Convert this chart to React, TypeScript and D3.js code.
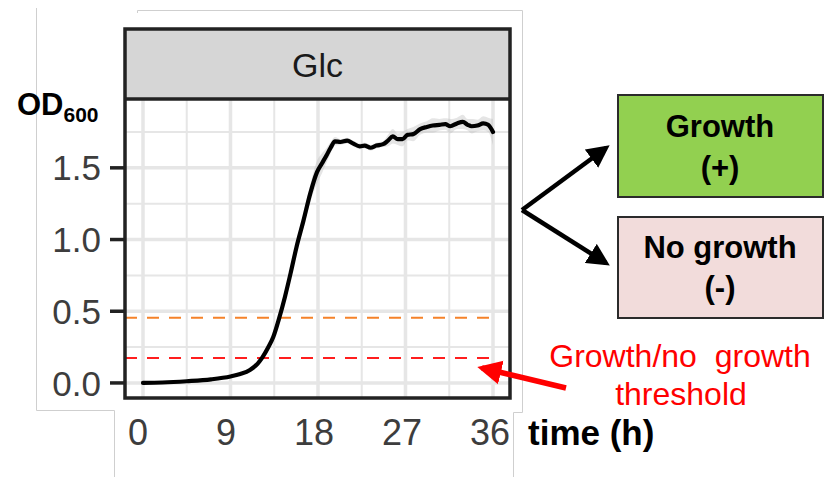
import React from 'react'
import * as d3 from 'd3'

// growth curve in glucose (mean OD600 with a small error band)
const hours = [0, 2, 4.5, 7, 9, 10, 11, 11.8, 12.3, 12.9, 13.4, 14, 14.6, 15.2, 15.8, 16.5, 17.2, 17.9, 18.4, 18.9,
  19.3, 19.75, 20.3, 21, 21.6, 22.3, 22.8, 23.4, 24, 24.7, 25.2, 25.7, 26.2, 26.7, 27.2, 27.8, 28.5, 29.2, 29.8, 30.5,
  31.1, 31.6, 32.3, 32.9, 33.4, 33.8, 34.4, 35, 35.5, 36]
const od600 = [0, 0.003, 0.012, 0.025, 0.045, 0.062, 0.09, 0.135, 0.18, 0.25, 0.32, 0.45, 0.6, 0.77, 0.95, 1.13, 1.32, 1.47, 1.53, 1.59,
  1.64, 1.685, 1.68, 1.69, 1.67, 1.65, 1.655, 1.64, 1.655, 1.665, 1.69, 1.72, 1.7, 1.7, 1.73, 1.735, 1.77, 1.785, 1.795, 1.8,
  1.805, 1.79, 1.81, 1.82, 1.8, 1.79, 1.795, 1.81, 1.8, 1.75]
const od600Sd = [0.005, 0.005, 0.005, 0.005, 0.005, 0.005, 0.005, 0.005, 0.005, 0.005, 0.005, 0.005, 0.01, 0.03, 0.04, 0.05, 0.06, 0.08, 0.07, 0.05,
  0.04, 0.03, 0.02, 0.02, 0.02, 0.02, 0.02, 0.02, 0.02, 0.02, 0.04, 0.05, 0.04, 0.05, 0.04, 0.05, 0.04, 0.04, 0.05, 0.04,
  0.04, 0.05, 0.04, 0.05, 0.04, 0.05, 0.04, 0.05, 0.05, 0.09]

const yMajor = [0, 0.5, 1.0, 1.5]
const yMinor = [0.25, 0.75, 1.25, 1.75]
const xMajor = [0, 9, 18, 27, 36]
const xMinor = [4.5, 13.5, 22.5, 31.5]
const xLabels = ['0', '9', '18', '27', '36']

const thresholds = [
  { value: 0.455, color: '#f5822a' },
  { value: 0.174, color: '#ff1e1e' },
]

const panel = { left: 125, right: 510, top: 29, stripBottom: 99, bottom: 398 }
const font = 'Liberation Sans, Arial, sans-serif'

export default function App() {
  const x = d3.scaleLinear().domain([-1.85, 37.75]).range([panel.left, panel.right])
  const y = d3.scaleLinear().domain([-0.105, 1.98]).range([panel.bottom, panel.stripBottom])
  // the hand-placed tick labels sit a little left of the grid
  const xLab = d3.scaleLinear().domain([0, 36]).range([138, 490])

  const rows = hours.map((h, i) => ({ h, v: od600[i], sd: od600Sd[i] }))

  const line = d3.line<any>()
    .x(d => x(d.h))
    .y(d => y(d.v))
    .curve(d3.curveMonotoneX)

  const band = d3.area<any>()
    .x(d => x(d.h))
    .y0(d => y(d.v - d.sd))
    .y1(d => y(d.v + d.sd))
    .curve(d3.curveMonotoneX)

  const grid = '#e6e6e6'

  return (
    <svg width={825} height={477} style={{ position: 'absolute', left: 0, top: 0, background: '#fff' }} fontFamily={font}>
      <defs>
        <marker id="blackHead" viewBox="0 0 10 10" refX="8" refY="5" markerWidth="5" markerHeight="5" orient="auto">
          <path d="M0,0 L10,5 L0,10 z" fill="#000" />
        </marker>
        <marker id="redHead" viewBox="0 0 10 10" refX="8" refY="5" markerWidth="4.4" markerHeight="5" orient="auto">
          <path d="M0,0 L10,5 L0,10 z" fill="#ff0000" />
        </marker>
        <clipPath id="plotClip">
          <rect x={panel.left} y={panel.stripBottom} width={panel.right - panel.left} height={panel.bottom - panel.stripBottom} />
        </clipPath>
      </defs>

      {/* faint edges of the pasted images */}
      <g fill="none" stroke="#cfcfcf" strokeWidth={1}>
        <path d="M36.5,8 V410.5 H114.5 V477" />
        <path d="M137.5,13 V10.5 H522.5 V412.5 H513.5 V477" />
      </g>

      {/* panel */}
      <rect x={panel.left} y={panel.stripBottom} width={panel.right - panel.left} height={panel.bottom - panel.stripBottom} fill="#fff" />
      <g clipPath="url(#plotClip)">
        {yMinor.map(v => (
          <line key={`ym${v}`} x1={panel.left} x2={panel.right} y1={y(v)} y2={y(v)} stroke={grid} strokeWidth={2} />
        ))}
        {xMinor.map(v => (
          <line key={`xm${v}`} x1={x(v)} x2={x(v)} y1={panel.stripBottom} y2={panel.bottom} stroke={grid} strokeWidth={2} />
        ))}
        {yMajor.map(v => (
          <line key={`yM${v}`} x1={panel.left} x2={panel.right} y1={y(v)} y2={y(v)} stroke={grid} strokeWidth={3.5} />
        ))}
        {xMajor.map(v => (
          <line key={`xM${v}`} x1={x(v)} x2={x(v)} y1={panel.stripBottom} y2={panel.bottom} stroke={grid} strokeWidth={3.5} />
        ))}
        <path d={band(rows) || ''} fill="#bdbdbd" opacity={0.4} />
        {thresholds.map(t => (
          <line key={t.value} x1={panel.left} x2={x(36.2)} y1={y(t.value)} y2={y(t.value)}
            stroke={t.color} strokeWidth={2} strokeDasharray="12 10" />
        ))}
        <path d={line(rows) || ''} fill="none" stroke="#000" strokeWidth={4.2} strokeLinejoin="round" strokeLinecap="round" />
      </g>

      {/* strip */}
      <rect x={panel.left} y={panel.top} width={panel.right - panel.left} height={panel.stripBottom - panel.top} fill="#d6d6d6" />
      <text x={(panel.left + panel.right) / 2} y={77} textAnchor="middle" fontSize={34} fill="#1a1a1a">Glc</text>
      <rect x={panel.left} y={panel.top} width={panel.right - panel.left} height={panel.bottom - panel.top}
        fill="none" stroke="#222" strokeWidth={3.5} />
      <line x1={panel.left} x2={panel.right} y1={panel.stripBottom} y2={panel.stripBottom} stroke="#222" strokeWidth={3.5} />

      {/* y axis */}
      {yMajor.map(v => (
        <g key={`yt${v}`}>
          <line x1={110} x2={panel.left} y1={y(v)} y2={y(v)} stroke="#222" strokeWidth={3.5} />
          <text x={101} y={y(v)} dy="0.36em" textAnchor="end" fontSize={35} fill="#3d3d3d">{v.toFixed(1)}</text>
        </g>
      ))}
      <text x={17} y={115} fontSize={31} fontWeight="bold" fill="#000">
        OD<tspan fontSize={21} dy={7}>600</tspan>
      </text>

      {/* x axis labels */}
      {xMajor.map((v, i) => (
        <text key={`xl${v}`} x={xLab(v)} y={445} textAnchor="middle" fontSize={36} fill="#3d3d3d">{xLabels[i]}</text>
      ))}
      <text x={528} y={445} fontSize={35} fontWeight="bold" fill="#000">time (h)</text>

      {/* outcome boxes */}
      <line x1={522} y1={210} x2={606} y2={148} stroke="#000" strokeWidth={4.5} markerEnd="url(#blackHead)" />
      <line x1={522} y1={210} x2={606} y2={263} stroke="#000" strokeWidth={4.5} markerEnd="url(#blackHead)" />
      <rect x={618} y={95} width={205} height={102} fill="#92d050" stroke="#2b2b2b" strokeWidth={2} />
      <text x={720} y={137} textAnchor="middle" fontSize={31} fontWeight="bold" fill="#000">Growth</text>
      <text x={720} y={178} textAnchor="middle" fontSize={31} fontWeight="bold" fill="#000">(+)</text>
      <rect x={618} y={217} width={205} height={101} fill="#f2dcdb" stroke="#2b2b2b" strokeWidth={2} />
      <text x={720} y={258} textAnchor="middle" fontSize={31} fontWeight="bold" fill="#000">No growth</text>
      <text x={720} y={298} textAnchor="middle" fontSize={31} fontWeight="bold" fill="#000">(-)</text>

      {/* threshold annotation */}
      <line x1={566} y1={388} x2={482} y2={368} stroke="#ff0000" strokeWidth={5.5} markerEnd="url(#redHead)" />
      <text x={680} y={367} textAnchor="middle" fontSize={32} fill="#ff0000" xmlSpace="preserve">Growth/no  growth</text>
      <text x={681} y={405} textAnchor="middle" fontSize={32} fill="#ff0000">threshold</text>
    </svg>
  )
}
